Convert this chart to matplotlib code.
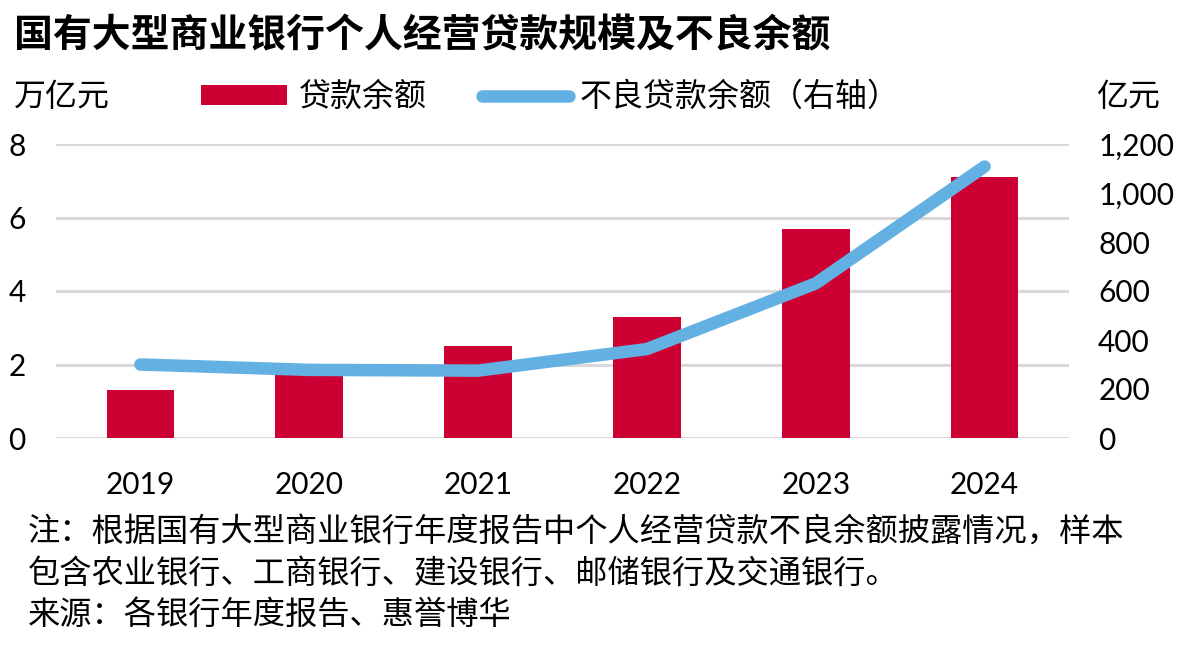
import numpy as np
import matplotlib.pyplot as plt
from matplotlib.ticker import FuncFormatter
from matplotlib.patches import Patch
from matplotlib.lines import Line2D

plt.rcParams['font.family'] = ['Lato', 'Noto Sans CJK SC', 'DejaVu Sans']

years = ['2019', '2020', '2021', '2022', '2023', '2024']
loans = [1.3, 1.8, 2.5, 3.3, 5.7, 7.1]          # 万亿元
npl = [300, 278, 275, 363, 631, 1108]            # 亿元, right axis

bar_color = '#CC0033'
line_color = '#63B1E3'
grid_color = '#D9D9D9'

W, H = 1188, 660
fig = plt.figure(figsize=(W / 100, H / 100), dpi=100)

# axes box in pixels: left 56, right 1069, top 144, bottom 438
ax = fig.add_axes([56 / W, 1 - 438 / H, (1069 - 56) / W, (438 - 144) / H])
ax2 = ax.twinx()

x = np.arange(len(years))
ax.bar(x, loans, width=0.4, color=bar_color, zorder=2)
ax2.plot(x, npl, color=line_color, lw=9, solid_capstyle='round',
         solid_joinstyle='round', zorder=3)

ax.set_xlim(-0.5, len(years) - 0.5)
ax.set_ylim(0, 8)
ax.set_yticks([0, 2, 4, 6, 8])
ax2.set_ylim(0, 1200)
ax2.set_yticks([0, 200, 400, 600, 800, 1000, 1200])
ax2.yaxis.set_major_formatter(FuncFormatter(lambda v, p: f'{int(v):,}'))

ax.set_xticks(x)
ax.set_xticklabels(years)
ax.yaxis.grid(True, color=grid_color, lw=2.2, zorder=0)
ax.set_axisbelow(True)

for a in (ax, ax2):
    for s in a.spines.values():
        s.set_visible(False)
    a.tick_params(length=0, labelsize=21.5, colors='black')
ax.tick_params(axis='y', pad=22)
ax.tick_params(axis='x', pad=24)
ax2.tick_params(axis='y', pad=21)

# title and unit labels
fig.text(14 / W, 1 - 36 / H, '国有大型商业银行个人经营贷款规模及不良余额',
         fontsize=28, fontweight='bold', va='center', ha='left',
         family=['Noto Sans CJK SC'])
fig.text(14 / W, 1 - 97 / H, '万亿元', fontsize=23, va='center', ha='left')
fig.text(1160 / W, 1 - 97 / H, '亿元', fontsize=23, va='center', ha='right')

# legend
handles = [Patch(facecolor=bar_color, edgecolor='none'),
           Line2D([], [], color=line_color, lw=9, solid_capstyle='round')]
labels = ['贷款余额', '不良贷款余额（右轴）']
fig.legend(handles, labels, loc='center left', bbox_to_anchor=(201 / W, 1 - 97 / H),
           ncol=2, frameon=False, fontsize=23, handlelength=2.7,
           handleheight=0.55, handletextpad=0.35, columnspacing=1.75,
           borderpad=0, borderaxespad=0)

# notes
notes = ['注：根据国有大型商业银行年度报告中个人经营贷款不良余额披露情况，样本',
         '包含农业银行、工商银行、建设银行、邮储银行及交通银行。',
         '来源：各银行年度报告、惠誉博华']
for i, line in enumerate(notes):
    fig.text(28 / W, 1 - (532 + 41 * i) / H, line, fontsize=23.2,
             va='center', ha='left')

fig.savefig('out.png', dpi=100)
